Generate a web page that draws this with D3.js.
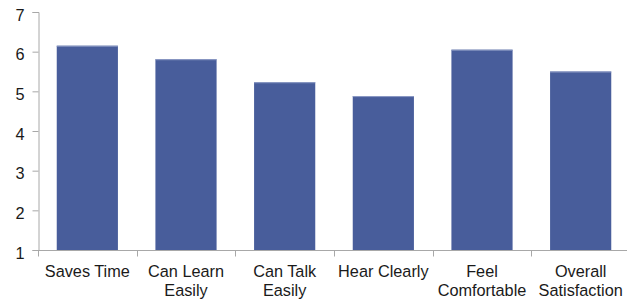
<!DOCTYPE html>
<html><head><meta charset="utf-8">
<script src="https://cdn.jsdelivr.net/npm/d3@7"></script>
<style>body{margin:0;background:#fff}svg{display:block}text{font-family:"Liberation Sans",Arial,sans-serif;fill:#1a1a1a}</style>
</head><body>
<svg id="c" width="627" height="301"></svg>
<script>
const categories = [["Saves Time"],["Can Learn","Easily"],["Can Talk","Easily"],["Hear Clearly"],["Feel","Comfortable"],["Overall","Satisfaction"]];
const values = [6.15, 5.81, 5.23, 4.88, 6.05, 5.50];
const yTicks = [1,2,3,4,5,6,7];

const svg = d3.select("#c");
const x0 = 38, x1 = 630, yTop = 12, yBot = 250;
const x = d3.scaleBand().domain(d3.range(categories.length)).range([x0, x1]).paddingInner(0.38).paddingOuter(0.19);
const y = d3.scaleLinear().domain([1,7]).range([yBot, yTop]);
const axisColor = "#a8a8a8";

// bars
svg.selectAll("rect.bar").data(values).join("rect")
  .attr("x", (d,i)=>x(i)).attr("width", x.bandwidth())
  .attr("y", d=>y(d)).attr("height", d=>y(1)-y(d))
  .attr("fill", "#485d9b");
svg.selectAll("line.top").data(values).join("line")
  .attr("x1",(d,i)=>x(i)).attr("x2",(d,i)=>x(i)+x.bandwidth())
  .attr("y1",d=>y(d)+0.5).attr("y2",d=>y(d)+0.5)
  .attr("stroke","#8e9cc6").attr("stroke-width",1);

// y axis
const gy = svg.append("g").attr("transform",`translate(${x0+0.5},0)`)
  .call(d3.axisLeft(y).tickValues(yTicks).tickFormat(d3.format("d")).tickSize(6).tickPadding(8));
gy.select(".domain").attr("stroke",axisColor);
gy.selectAll(".tick line").attr("stroke",axisColor);
gy.selectAll(".tick text").attr("font-size",16.3).attr("font-family","Liberation Sans, Arial, sans-serif").attr("fill","#111").attr("dy","0.5em");

// x axis
const gx = svg.append("g").attr("transform",`translate(0,${yBot+0.5})`);
gx.append("line").attr("x1",x0).attr("x2",x1).attr("stroke",axisColor);
const boundaries = d3.range(categories.length+1).map(i=>x0 + i*(x1-x0)/categories.length);
gx.selectAll("line.t").data(boundaries).join("line").attr("class","t")
  .attr("x1",d=>Math.round(d)+0.5).attr("x2",d=>Math.round(d)+0.5).attr("y1",0).attr("y2",6).attr("stroke",axisColor);
const lbl = gx.selectAll("text.l").data(categories).join("text").attr("class","l")
  .attr("text-anchor","middle").attr("font-size",16.3).attr("fill","#111")
  .attr("transform",(d,i)=>`translate(${x(i)+x.bandwidth()/2},26.5)`);
lbl.selectAll("tspan").data(d=>d).join("tspan").attr("x",0).attr("dy",(d,j)=>j?19:0).text(d=>d);
</script>
</body></html>
